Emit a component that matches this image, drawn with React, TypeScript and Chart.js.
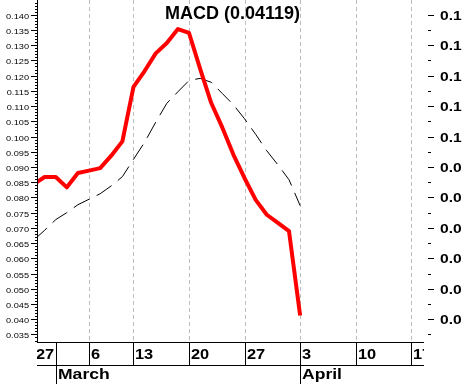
import React, { useEffect, useRef } from 'react';
import { Chart, registerables } from 'chart.js';
Chart.register(...registerables);

const titleText = 'MACD (0.04119)';
// trading-day index 0 = 27 Feb
const macdValues = [0.0843, 0.0867, 0.0867, 0.0833, 0.0880, 0.0888, 0.0896, 0.0937, 0.0984, 0.1163, 0.1215, 0.1273, 0.1307, 0.1353, 0.1340, 0.1222, 0.1110, 0.1029, 0.0940, 0.0863, 0.0792, 0.0743, 0.0716, 0.0689, 0.04119];
const signalValues = [0.0659, 0.0692, 0.0727, 0.0750, 0.0776, 0.0794, 0.0812, 0.0838, 0.0868, 0.0925, 0.0981, 0.1047, 0.1109, 0.1147, 0.1184, 0.1191, 0.1178, 0.1141, 0.1104, 0.1058, 0.1007, 0.0953, 0.0907, 0.0858, 0.0773];
const dayTickLabels = ['27', '6', '13', '20', '27', '3', '10', '17'];
const dayTickIndex = [0, 5, 9, 14, 19, 24, 29, 34];
const monthLabels = ['March', 'April'];
const monthStartIndex = [2, 24];
const leftTickValues = [0.035, 0.04, 0.045, 0.05, 0.055, 0.06, 0.065, 0.07, 0.075, 0.08, 0.085, 0.09, 0.095, 0.1, 0.105, 0.11, 0.115, 0.12, 0.125, 0.13, 0.135, 0.14];
const rightTickValues = [0.04, 0.05, 0.06, 0.07, 0.08, 0.09, 0.1, 0.11, 0.12, 0.13, 0.14];
const rightTickLabels = ['0.0', '0.0', '0.0', '0.0', '0.0', '0.0', '0.1', '0.1', '0.1', '0.1', '0.1'];

const FONT = '"Liberation Sans", Arial, sans-serif';

function txt(ctx: CanvasRenderingContext2D, s: string, x: number, y: number, font: string, sx: number, align: CanvasTextAlign = 'left') {
  ctx.save();
  ctx.font = font;
  ctx.textAlign = align;
  ctx.textBaseline = 'alphabetic';
  ctx.translate(x, y);
  ctx.scale(sx, 1);
  ctx.fillStyle = '#000';
  ctx.fillText(s, 0, 0);
  ctx.restore();
}

function hline(ctx: CanvasRenderingContext2D, x1: number, x2: number, y: number) {
  ctx.beginPath();
  ctx.moveTo(x1, y + 0.5);
  ctx.lineTo(x2, y + 0.5);
  ctx.stroke();
}
function vline(ctx: CanvasRenderingContext2D, x: number, y1: number, y2: number) {
  ctx.beginPath();
  ctx.moveTo(x + 0.5, y1);
  ctx.lineTo(x + 0.5, y2);
  ctx.stroke();
}

const decorPlugin = {
  id: 'decor',
  beforeDatasetsDraw(chart: any) {
    const { ctx, chartArea: a, scales } = chart;
    const xs = scales.x;
    ctx.save();
    ctx.strokeStyle = '#bdbdbd';
    ctx.lineWidth = 1;
    ctx.setLineDash([4, 3]);
    dayTickIndex.forEach((d) => {
      const px = Math.round(xs.getPixelForValue(d));
      if (px > a.left && px < a.right) vline(ctx, px, a.top, a.bottom);
    });
    ctx.restore();
  },
  afterDraw(chart: any) {
    const { ctx, chartArea: a, scales, height } = chart;
    const xs = scales.x;
    const ys = scales.y;
    ctx.save();
    ctx.strokeStyle = '#000';
    ctx.lineWidth = 1;
    ctx.setLineDash([]);

    // title
    txt(ctx, titleText, 165, 19, `bold 18px ${FONT}`, 1.0);

    // left axis
    const axX = a.left - 1;
    vline(ctx, axX, a.top, a.bottom + 1);
    for (let k = 33; k <= 144; k++) {
      const v = k / 1000;
      const py = Math.round(ys.getPixelForValue(v));
      if (py < a.top || py > a.bottom) continue;
      hline(ctx, axX - 2, axX, py);
    }
    leftTickValues.forEach((v) => {
      const py = Math.round(ys.getPixelForValue(v));
      hline(ctx, axX - 6, axX, py);
      txt(ctx, v.toFixed(3), axX - 8, py + 3.5, `8px ${FONT}`, 1.15, 'right');
    });

    // right axis
    const rx = a.right + 4;
    rightTickValues.forEach((v, i) => {
      const py = Math.round(ys.getPixelForValue(v));
      hline(ctx, rx, rx + 6, py);
      const pm = Math.round(ys.getPixelForValue(v + 0.005));
      if (pm >= a.top) hline(ctx, rx, rx + 3, pm);
      txt(ctx, rightTickLabels[i], rx + 12, py + 5, `bold 13px ${FONT}`, 1.2);
    });
    {
      const pm = Math.round(ys.getPixelForValue(0.035));
      hline(ctx, rx, rx + 3, pm);
    }

    // x axis rows
    const r1 = a.bottom;
    const r2 = a.bottom + 23;
    ctx.save();
    ctx.beginPath();
    ctx.rect(a.left - 1, r1, a.right - a.left + 1, height - r1);
    ctx.clip();
    hline(ctx, a.left - 1, a.right, r1);
    hline(ctx, a.left - 1, a.right, r2);
    dayTickIndex.forEach((d, i) => {
      const px = Math.round(xs.getPixelForValue(d));
      vline(ctx, px, r1, r2 + 1);
      txt(ctx, dayTickLabels[i], px + 2, r1 + 17, `bold 14px ${FONT}`, 1.17);
    });
    monthStartIndex.forEach((d, i) => {
      const px = Math.round(xs.getPixelForValue(d));
      vline(ctx, px, r1, height);
      txt(ctx, monthLabels[i], px + 2, r2 + 14, `bold 15px ${FONT}`, 1.17);
    });
    ctx.restore();
    ctx.restore();
  },
};

export default function App() {
  const ref = useRef<HTMLCanvasElement | null>(null);
  useEffect(() => {
    document.body.style.margin = '0';
    const canvas = ref.current!;
    const chart = new Chart(canvas, {
      type: 'line',
      data: {
        datasets: [
          {
            label: 'MACD',
            data: macdValues.map((v, i) => ({ x: i, y: v })),
            borderColor: '#ff0000',
            borderWidth: 4,
            pointRadius: 0,
            tension: 0,
            fill: false,
            clip: { left: 0, right: 5, top: 5, bottom: 5 },
            borderJoinStyle: 'round',
          } as any,
          {
            label: 'Signal',
            data: signalValues.map((v, i) => ({ x: i, y: v })),
            borderColor: '#000000',
            borderWidth: 1,
            borderDash: [18, 8],
            pointRadius: 0,
            tension: 0,
            fill: false,
            clip: { left: 0, right: 5, top: 5, bottom: 5 },
          } as any,
        ],
      },
      options: {
        animation: false,
        responsive: false,
        events: [],
        layout: { padding: { left: 38, right: 42, top: 0, bottom: 42 } },
        plugins: { legend: { display: false }, tooltip: { enabled: false }, title: { display: false } },
        scales: {
          x: { type: 'linear', display: false, min: 0.405, max: 35.15 },
          y: { type: 'linear', display: false, min: 0.03251, max: 0.14483 },
        },
      },
      plugins: [decorPlugin],
    });
    return () => chart.destroy();
  }, []);
  return (
    <div style={{ width: 466, height: 384, background: '#fff' }}>
      <canvas ref={ref} width={466} height={384} style={{ display: 'block' }} />
    </div>
  );
}
